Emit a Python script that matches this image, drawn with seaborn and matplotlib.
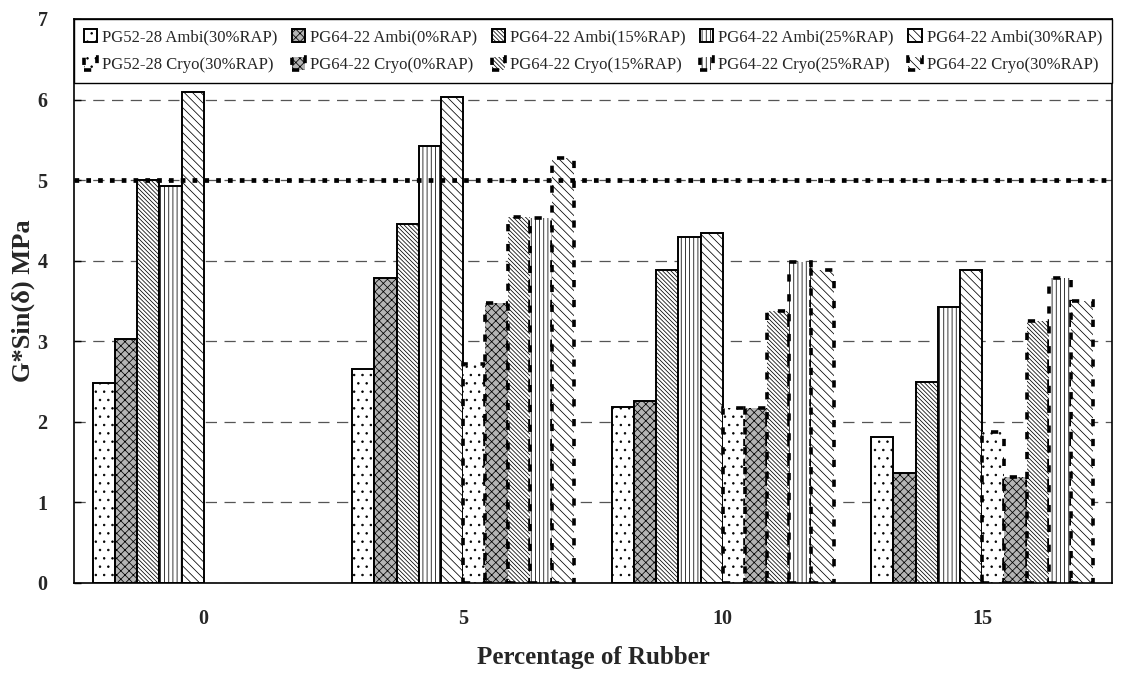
import numpy as np
import pandas as pd
import matplotlib
matplotlib.use("Agg")
import matplotlib.pyplot as plt
import matplotlib.patches as mpatches
from matplotlib.ticker import FixedLocator
import seaborn as sns

# ---------------- data ----------------
rubber = ["0", "5", "10", "15"]
series = ["PG52-28 Ambi(30%RAP)", "PG64-22 Ambi(0%RAP)", "PG64-22 Ambi(15%RAP)",
          "PG64-22 Ambi(25%RAP)", "PG64-22 Ambi(30%RAP)",
          "PG52-28 Cryo(30%RAP)", "PG64-22 Cryo(0%RAP)", "PG64-22 Cryo(15%RAP)",
          "PG64-22 Cryo(25%RAP)", "PG64-22 Cryo(30%RAP)"]
nan = np.nan
ambi_52_30 = [2.48, 2.66, 2.19, 1.81]
ambi_64_0 = [3.03, 3.78, 2.26, 1.37]
ambi_64_15 = [5.00, 4.45, 3.88, 2.49]
ambi_64_25 = [4.93, 5.42, 4.30, 3.42]
ambi_64_30 = [6.09, 6.03, 4.34, 3.88]
cryo_52_30 = [nan, 2.72, 2.17, 1.88]
cryo_64_0 = [nan, 3.47, 2.17, 1.32]
cryo_64_15 = [nan, 4.54, 3.37, 3.25]
cryo_64_25 = [nan, 4.53, 3.99, 3.78]
cryo_64_30 = [nan, 5.27, 3.89, 3.50]
spec_limit = 5.0
y_ticks = [0, 1, 2, 3, 4, 5, 6, 7]

values = [ambi_52_30, ambi_64_0, ambi_64_15, ambi_64_25, ambi_64_30,
          cryo_52_30, cryo_64_0, cryo_64_15, cryo_64_25, cryo_64_30]
rows = []
for s, vals in zip(series, values):
    for r, v in zip(rubber, vals):
        if not np.isnan(v):
            rows.append({"rubber": r, "series": s, "value": v})
df = pd.DataFrame(rows)

# ---------------- style ----------------
sns.set_theme(style="white")
plt.rcParams["font.family"] = ["Liberation Serif", "DejaVu Serif"]
plt.rcParams["hatch.linewidth"] = 0.55

fig, ax = plt.subplots(figsize=(11.28, 6.76), dpi=100)
fig.subplots_adjust(left=0.0656, right=0.9858, top=0.9719, bottom=0.1376)

sns.barplot(data=df, x="rubber", y="value", hue="series", order=rubber,
            hue_order=series, width=0.855, errorbar=None, ax=ax,
            legend=False, saturation=1, palette=["white"] * 10)

fills = ["white", "#b4b4b4", "white", "white", "white"] * 2
hatches = ["..", "xxxx", "\\\\\\\\\\\\\\\\", "||||", "\\\\\\\\"] * 2
cryo_ls = (0, (2, 3.5))

styles = []
for i, cont in enumerate(ax.containers):
    is_cryo = i >= 5
    st = dict(facecolor=fills[i], hatch=hatches[i], edgecolor="black",
              linewidth=2.6 if is_cryo else 1.4,
              linestyle=cryo_ls if is_cryo else "solid")
    styles.append(st)
    for p in cont.patches:
        p.set_facecolor(st["facecolor"])
        p.set_hatch(st["hatch"])
        p.set_edgecolor(st["edgecolor"])
        p.set_linewidth(st["linewidth"])
        p.set_linestyle(st["linestyle"])
        p.set_zorder(2)

# spec line
ax.axhline(spec_limit, color="black", lw=3.4, ls=(0, (1, 1.5)), zorder=5)

# axes
ax.set_ylim(0, 7)
ax.set_xlim(-0.5, len(rubber) - 0.5)
ax.set_yticks(y_ticks)
ax.set_yticklabels([str(t) for t in y_ticks], fontweight="bold", fontsize=14.5)
ax.set_xticks(range(len(rubber)))
ax.set_xticklabels(rubber, fontweight="bold", fontsize=14.5)
ax.xaxis.set_minor_locator(FixedLocator(np.arange(-0.5, len(rubber), 1.0)))
ax.tick_params(axis="x", which="major", length=0, pad=19)
ax.tick_params(axis="x", which="minor", direction="in", length=5, width=1, color="black")
ax.tick_params(axis="y", direction="in", length=5, width=1, color="black", left=True, pad=19)
ax.yaxis.grid(True, color="#555555", lw=0.9, ls=(0, (9, 6)))
ax.xaxis.grid(False)
ax.set_axisbelow(True)
for sp in ax.spines.values():
    sp.set_color("black")
    sp.set_linewidth(1.2)

ax.set_xlabel("Percentage of Rubber", fontweight="bold", fontsize=18, labelpad=12)
ax.set_ylabel("G*Sin(δ) MPa", fontweight="bold", fontsize=19, labelpad=2)

# legend: row 1 ambi, row 2 cryo
handles, labels = [], []
for k in range(5):
    for j in (k, k + 5):
        st = styles[j]
        handles.append(mpatches.Patch(**st))
        labels.append(series[j])
leg = ax.legend(handles, labels, ncol=5, loc="upper left",
                bbox_to_anchor=(0, 0, 1, 1), mode="expand", borderaxespad=0,
                frameon=True, fancybox=False, framealpha=1, edgecolor="black",
                prop={"family": "Liberation Serif", "size": 12},
                handlelength=0.8, handleheight=0.8, handletextpad=0.3,
                labelspacing=0.7, borderpad=0.6)
leg.get_frame().set_linewidth(1.0)
leg.set_zorder(10)

fig.savefig("out.png", dpi=100)
